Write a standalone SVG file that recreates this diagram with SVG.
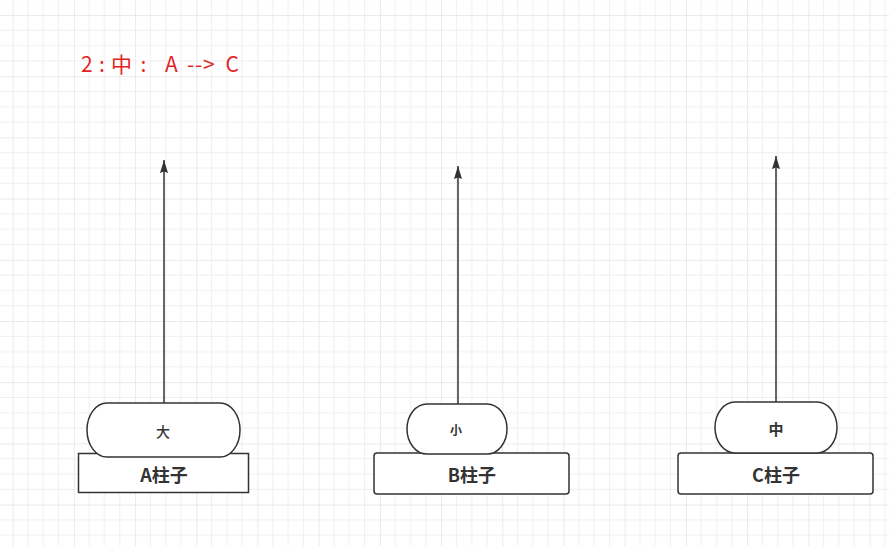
<svg xmlns="http://www.w3.org/2000/svg" width="889" height="546" viewBox="0 0 889 546">
  <defs>
    <pattern id="grid" patternUnits="userSpaceOnUse" x="12.7" y="15" width="61.2" height="61.2">
      <path d="M15.3 0V61.2M30.6 0V61.2M45.9 0V61.2M0 15.3H61.2M0 30.6H61.2M0 45.9H61.2" stroke="#efefef" stroke-width="1" fill="none"/>
      <path d="M0 0V61.2M0 0H61.2" stroke="#e4e4e4" stroke-width="1.5" fill="none"/>
    </pattern>
    <marker id="arrow" markerUnits="userSpaceOnUse" markerWidth="14" markerHeight="10" viewBox="0 0 14 10" refX="13" refY="5" orient="auto">
      <path d="M13 5L0 1L1.5 5L0 9Z" fill="#333333"/>
    </marker>
  </defs>
  <style>
    .base { fill: #ffffff; stroke: #333333; stroke-width: 1.5; }
    .disk { fill: #ffffff; stroke: #333333; stroke-width: 1.5; }
    .lbl { font-family: "Noto Sans CJK SC", "Noto Sans", sans-serif; font-weight: bold; fill: #333333; text-anchor: middle; dominant-baseline: central; }
    .conn { stroke: #333333; stroke-width: 1.5; fill: none; }
  </style>
  <rect width="889" height="546" fill="#ffffff"/>
  <rect width="889" height="546" fill="url(#grid)"/>

  <text id="title" y="72" font-family="Noto Sans CJK SC, Noto Sans, sans-serif" font-size="21" fill="#e3241e"><tspan x="81">2</tspan><tspan x="99">:</tspan><tspan x="111">中</tspan><tspan x="140.5">:</tspan><tspan x="165">A</tspan><tspan x="187">-</tspan><tspan x="195">-</tspan><tspan x="203">&gt;</tspan><tspan x="225.5">C</tspan></text>

  <g id="connectors">
    <line class="conn" x1="164" y1="403" x2="164" y2="160" marker-end="url(#arrow)"/>
    <line class="conn" x1="458" y1="404" x2="458" y2="166" marker-end="url(#arrow)"/>
    <line class="conn" x1="776" y1="402" x2="776" y2="156" marker-end="url(#arrow)"/>
  </g>

  <g id="pillarA">
    <rect class="base" x="78.5" y="453.5" width="170" height="39"/>
    <text class="lbl" x="164" y="474" font-size="18">A柱子</text>
  </g>
  <g id="pillarB">
    <rect class="base" x="374" y="453" width="195" height="41" rx="3"/>
    <text class="lbl" x="472" y="474" font-size="18">B柱子</text>
  </g>
  <g id="pillarC">
    <rect class="base" x="678" y="453" width="195" height="41" rx="3"/>
    <text class="lbl" x="776" y="474" font-size="18">C柱子</text>
  </g>

  <g id="diskBig">
    <rect class="disk" x="87" y="403" width="153" height="54" rx="20" ry="27"/>
    <text class="lbl" x="163" y="431" font-size="14" style="font-weight:500">大</text>
  </g>
  <g id="diskSmall">
    <rect class="disk" x="407" y="404" width="100" height="50" rx="20" ry="25"/>
    <text class="lbl" x="456" y="429" font-size="12">小</text>
  </g>
  <g id="diskMid">
    <rect class="disk" x="715" y="402" width="122" height="51" rx="20" ry="25.5"/>
    <text class="lbl" x="776" y="428" font-size="15">中</text>
  </g>
</svg>
